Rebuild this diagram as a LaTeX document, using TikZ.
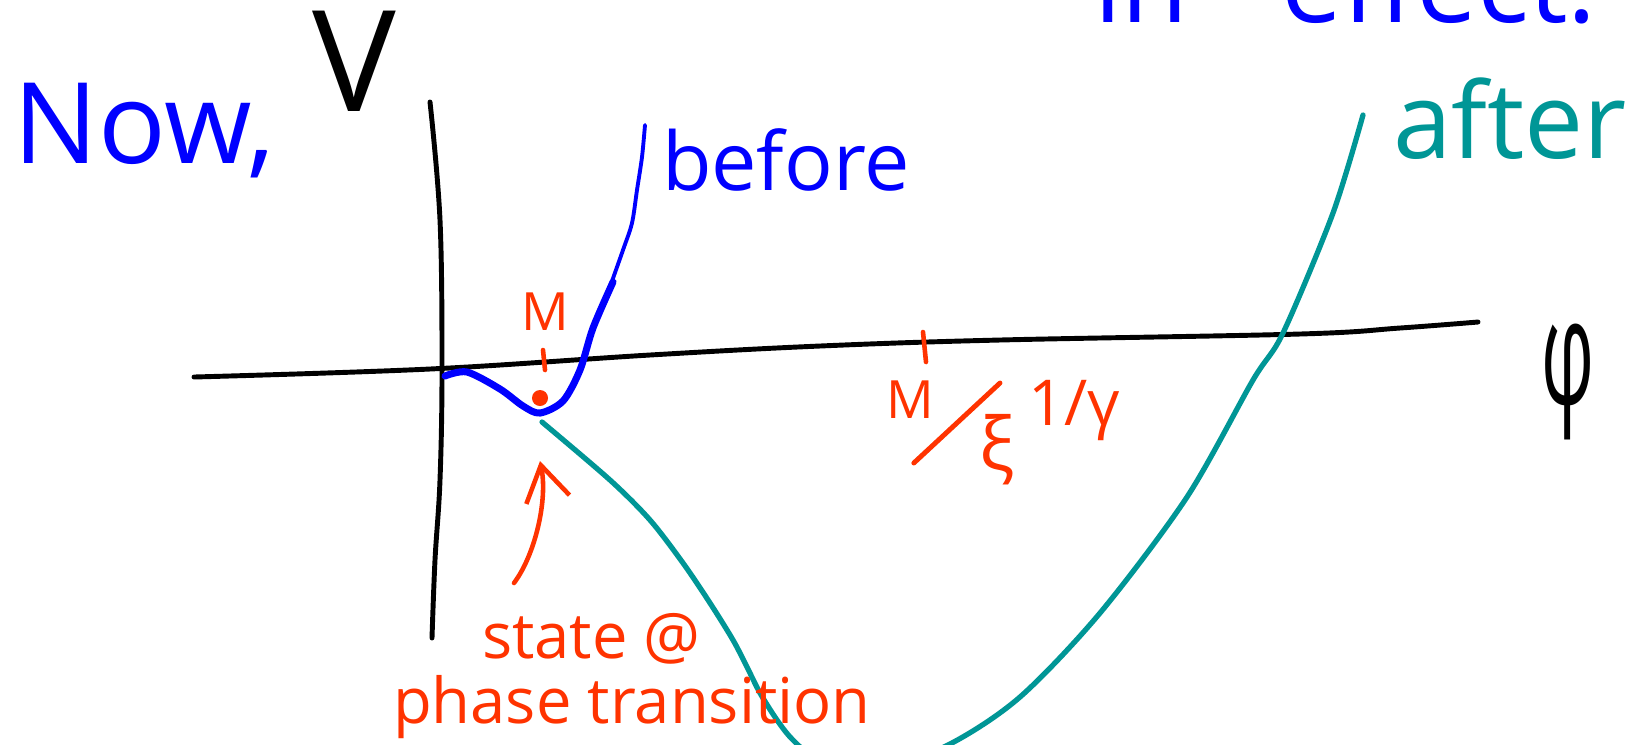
\documentclass[tikz,border=0pt]{standalone}
\usepackage{graphicx}
\usepackage{fontspec}
\setmainfont{Open Sans}
\usetikzlibrary{arrows.meta}
\definecolor{penblue}{RGB}{0,0,255}
\definecolor{penteal}{RGB}{0,150,150}
\definecolor{penred}{RGB}{255,51,0}

\begin{document}
\begin{tikzpicture}[
  x=0.01cm, y=-0.01cm,
  axis/.style={draw=black, line width=1.4pt, line cap=round},
  beforecurve/.style={draw=penblue, line width=2pt, line cap=round},
  aftercurve/.style={draw=penteal, line width=1.5pt, line cap=round},
  redpen/.style={draw=penred, line width=1.3pt, line cap=round},
  hand/.style={inner sep=0pt, outer sep=0pt, anchor=base west}
]
\useasboundingbox (0,0) rectangle (1648,744);
\clip (0,0) rectangle (1648,744);

% axes
\draw[axis] plot[smooth, tension=0.6] coordinates
  {(194,377) (430,369) (650,355) (820,346) (1000,340) (1300,334) (1400,328) (1478,322)};
\draw[axis] plot[smooth, tension=0.6] coordinates
  {(430,102) (440,220) (442,370) (440,480) (435,560) (432,638)};

% potentials
\draw[beforecurve] plot[smooth] coordinates
  {(445,376) (467,372) (500,389) (523,406) (540,413) (563,401) (580,370) (593,328) (613,282)};
\draw[beforecurve, line width=1.1pt] plot[smooth] coordinates
  {(606,298) (623,250) (632,223) (637,190) (642,157) (645,125)};
\draw[aftercurve] plot[smooth] coordinates
  {(542,422) (610,480) (650,520) (683,563) (710,603) (733,640) (747,667) (760,693)
   (777,720) (793,740) (820,762) (870,775) (950,744) (1020,697) (1100,613) (1187,497)
   (1253,380) (1283,333) (1333,213) (1363,115)};

% labels
\node[hand, text=penblue, font=\fontsize{31}{35}\selectfont] (topnote) at (1094,22) {in\hspace{0.85em}effect:};
\node[hand, text=penblue, font=\fontsize{32}{36}\selectfont] (now) at (14,163) {Now,};
\node[hand, font=\fontsize{40}{44}\selectfont] (vlabel) at (312,111) {V};
\node[hand, font=\fontsize{42}{46}\selectfont] (philabel) at (1541,404) {\scalebox{0.5}[1]{φ}};
\node[hand, text=penblue, font=\fontsize{23}{26}\selectfont] (beforelabel) at (662,190) {before};
\node[hand, text=penteal, font=\fontsize{30}{34}\selectfont] (afterlabel) at (1393,158) {after};

% field values
\node[hand, anchor=base, text=penred, font=\fontsize{15}{18}\selectfont] (mfirst) at (545,330) {M};
\draw[redpen] (543,350) -- (545,370);
\node[circle, fill=penred, inner sep=0pt, minimum size=1.6mm] (dot) at (540,398) {};

\draw[redpen] (923,332) -- (926,362);
\node[hand, anchor=base, text=penred, font=\fontsize{15}{18}\selectfont] (msecond) at (910,418) {M};
\node[hand, anchor=base, text=penred, font=\fontsize{21}{24}\selectfont] (xilabel) at (997,470) {ξ};
\node[hand, anchor=base, text=penred, font=\fontsize{18}{21}\selectfont] (powlabel) at (1074,425) {1/γ};
\draw[redpen, line width=1.4pt] (msecond.south east) ++(-20,45) coordinate (slashlow)
  (slashlow) -- (1000,383);

% state label
\node[hand, text=penred, font=\fontsize{18}{21}\selectfont] (stateline) at (482,658) {state @};
\node[hand, text=penred, font=\fontsize{18}{21}\selectfont] (phaseline) at (393,723) {phase transition};
\coordinate (arrtail) at (514,583);
\coordinate (arrtip) at (540,461);
\draw[redpen, -{Straight Barb[length=3.5mm,width=4.4mm]}]
  (arrtail) .. controls (535,555) and (548,500) .. (arrtip);
\end{tikzpicture}
\end{document}
